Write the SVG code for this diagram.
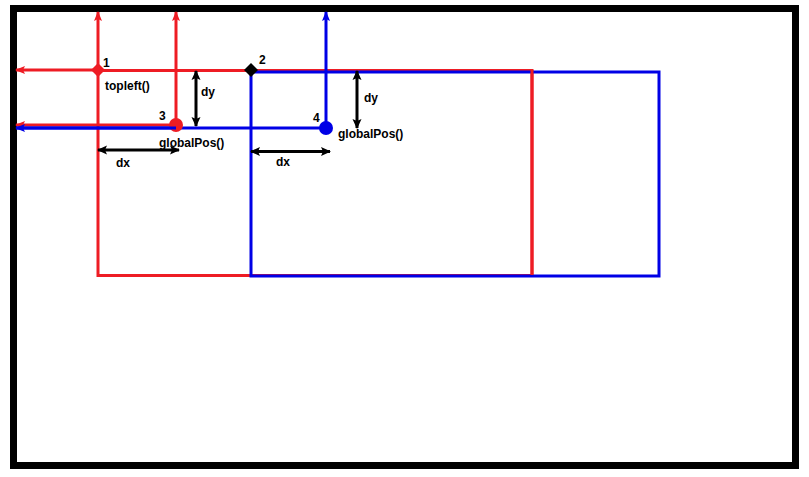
<svg xmlns="http://www.w3.org/2000/svg" width="809" height="477" viewBox="0 0 809 477">
<defs>
<marker id="ar" markerUnits="userSpaceOnUse" markerWidth="10" markerHeight="10" refX="9" refY="5" orient="auto-start-reverse" viewBox="0 0 10 10"><path d="M0,1 L10,5 L0,9 L2,5 z" fill="#ee1c24"/></marker>
<marker id="ab" markerUnits="userSpaceOnUse" markerWidth="10" markerHeight="10" refX="9" refY="5" orient="auto-start-reverse" viewBox="0 0 10 10"><path d="M0,1 L10,5 L0,9 L2,5 z" fill="#0000e6"/></marker>
<marker id="ak" markerUnits="userSpaceOnUse" markerWidth="10" markerHeight="10" refX="9" refY="5" orient="auto-start-reverse" viewBox="0 0 10 10"><path d="M0,0.5 L10,5 L0,9.5 L2,5 z" fill="#000"/></marker>
</defs>
<style>
.red{stroke:#ee1c24;stroke-width:3;fill:none}
.blue{stroke:#0000e6;stroke-width:3;fill:none}
.blk{stroke:#000;stroke-width:3;fill:none}
text{font-family:"Liberation Sans",Arial,sans-serif;font-size:12px;font-weight:bold;fill:#000}
</style>
<rect width="809" height="477" fill="#fff"/>
<rect id="frame" x="13.5" y="8.5" width="782" height="457" fill="none" stroke="#000" stroke-width="7"/>
<g id="red-rect"><path class="red" d="M98,70.5 H532 V275.5 H98 Z"/></g>
<g id="blue-rect"><rect class="blue" x="251" y="72" width="408" height="204"/></g>
<path class="red" d="M532,70 V275"/>
<g id="connectors">
<line class="red" x1="98" y1="70" x2="98" y2="12" marker-end="url(#ar)"/>
<line class="red" x1="98" y1="70" x2="16" y2="70" marker-end="url(#ar)"/>
<line class="red" x1="176" y1="124" x2="176" y2="12" marker-end="url(#ar)"/>
<line class="red" x1="176" y1="125" x2="16" y2="125" marker-end="url(#ar)"/>
<line class="blue" x1="326" y1="128" x2="326" y2="12" marker-end="url(#ab)"/>
<line class="blue" x1="326" y1="128" x2="16" y2="128" marker-end="url(#ab)"/>
<line class="blk" x1="196" y1="71" x2="196" y2="126" marker-start="url(#ak)" marker-end="url(#ak)"/>
<line class="blk" x1="357" y1="71" x2="357" y2="128" marker-start="url(#ak)" marker-end="url(#ak)"/>
<line class="blk" x1="98" y1="150" x2="179" y2="150" marker-start="url(#ak)" marker-end="url(#ak)"/>
<line class="blk" x1="251" y1="151.5" x2="330" y2="151.5" marker-start="url(#ak)" marker-end="url(#ak)"/>
</g>
<g id="p1"><path d="M98,63 L105,70 L98,77 L91,70 Z" fill="#ee1c24"/><text x="103" y="67">1</text><text x="105" y="90">topleft()</text></g>
<g id="p2"><path d="M251,63 L258,70 L251,77 L244,70 Z" fill="#000"/><text x="259" y="64">2</text></g>
<g id="p3"><circle cx="176" cy="125" r="7" fill="#ee1c24"/><path d="M16,128 H176" class="blue" stroke-width="3"/><text x="159" y="120">3</text><text x="159" y="147">globalPos()</text></g>
<g id="p4"><circle cx="326" cy="128" r="7" fill="#0000e6"/><text x="313" y="122">4</text><text x="338" y="138">globalPos()</text></g>
<g id="labels">
<text x="201" y="96">dy</text>
<text x="364" y="102">dy</text>
<text x="116" y="167">dx</text>
<text x="276" y="166">dx</text>
</g>
</svg>
